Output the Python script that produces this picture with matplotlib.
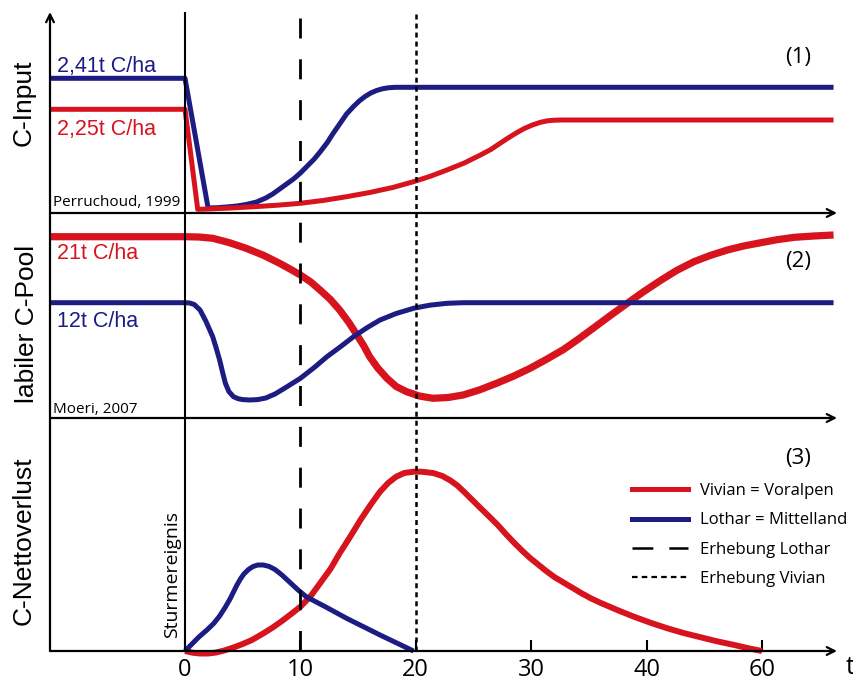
import matplotlib.pyplot as plt
from matplotlib.lines import Line2D

plt.rcParams['lines.scale_dashes'] = False
plt.rcParams['font.family'] = ['Open Sans', 'DejaVu Sans']

RED = '#d7141e'
BLUE = '#1c1c82'

# time axis (the last tick is labelled 60 but sits one step after 40)
tick_pos = [0, 10, 20, 30, 40, 50]
tick_labels = ['0', '10', '20', '30', '40', '60']

# (1) C-Input, arbitrary height units
input_blue_t = [-11.7, 0, 2.0, 2.8, 3.6, 4.5, 5.3, 6.2, 7.0, 7.6, 8.2, 8.8, 9.4, 10, 10.6, 11.2, 11.7, 12.3,
                12.8, 13.4, 14, 14.6, 15.1, 15.6, 16.1, 16.6, 17.1, 17.6, 18.2, 56.2]
input_blue_y = [134.7, 134.7, 5, 5.3, 6, 7, 8.5, 11, 15, 19, 24, 29, 34, 40, 47, 54, 61, 70,
                79, 89, 99, 106.5, 112, 116.5, 120, 122.5, 124.2, 125.2, 125.7, 125.7]
input_red_t = [-11.7, 0, 1.1, 2, 4, 6, 8, 10, 12, 14, 16, 18, 19.8, 21.2, 22.7, 24.2, 25.6, 26.5,
               27.3, 28, 28.7, 29.4, 30.1, 30.8, 31.4, 32, 32.6, 56.2]
input_red_y = [103.7, 103.7, 3.7, 4, 5, 6.3, 7.8, 9.7, 12.6, 16.3, 20.5, 25.5, 31.3, 36.5, 43, 50, 58, 63.5,
               69.7, 75, 80, 84.5, 88, 90.7, 92.2, 92.8, 93, 93]

# (2) labiler C-Pool
pool_red_t = [-11.7, 0, 1.2, 2.4, 3.8, 5.3, 6.8, 8.2, 9.1, 10, 10.9, 11.7, 12.6, 13.4, 14.2, 14.9, 15.5,
              16, 16.7, 17.5, 18.3, 19.2, 20.3, 21.5, 22.8, 24.1, 25.5, 27, 28.5, 29.9, 31.3, 32.8, 34.1,
              35.4, 36.8, 38.3, 39.7, 41.2, 42.6, 44.1, 45.5, 47, 48.4, 49.9, 51.3, 52.8, 54.5, 56.2]
pool_red_y = [181.3, 181.3, 181, 179.7, 175.5, 169.7, 162.7, 154.7, 149, 143, 136, 128, 118.5, 108, 95.5, 83, 72,
              61.3, 50, 39.7, 31.5, 26.3, 22, 19.7, 20.5, 23, 28, 34.7, 42, 49.7, 58.5, 68.5, 79,
              90, 102, 114.5, 126, 137.5, 147.5, 156.3, 162.5, 168, 172, 175.3, 178.3, 180.7, 182, 183]
pool_blue_t = [-11.7, 0, 0.4, 0.8, 1.3, 1.8, 2.4, 2.7, 3.0, 3.25, 3.5, 3.8, 4.2, 4.6, 5.0, 5.6, 6.3, 7.0,
               7.8, 8.8, 10, 11.2, 12.3, 13.5, 14.6, 15.8, 16.9, 18.3, 19.8, 21.2, 22.7, 24.1, 56.2]
pool_blue_y = [115.3, 115.3, 115, 113.5, 108, 97, 81.3, 70, 58, 46, 34.7, 26.5, 21.3, 19.3, 18.4, 18, 18.4, 20,
               24, 31, 39.7, 50.5, 61.3, 71.5, 81.3, 90.5, 98, 104.5, 109.7, 112.8, 114.7, 115.3, 115.3]

# (3) C-Nettoverlust
loss_blue_t = [0, 0.6, 1.2, 1.9, 2.5, 3.0, 3.5, 3.9, 4.2, 4.5, 4.8, 5.1, 5.5, 5.9, 6.3, 6.8, 7.3, 7.8,
               8.4, 9.1, 9.8, 10.5, 12.2, 14, 16.9, 19.8]
loss_blue_y = [0, 7, 14, 21, 27.7, 35, 44, 52, 59, 66, 72, 77, 81.5, 84.5, 86, 86, 84.5, 81.5,
               76, 68.5, 61, 54.3, 44, 32.7, 16, 0]
loss_red_t = [0, 0.7, 1.3, 2.0, 2.7, 3.4, 4.2, 5.0, 5.8, 6.8, 7.6, 8.4, 9.2, 10, 10.9, 11.7, 12.6, 13.4,
              14.3, 15.2, 16.1, 16.9, 17.6, 18.3, 19.0, 19.8, 20.5, 21.5, 22.3, 23, 23.6, 24.2, 24.9, 25.6,
              26.4, 27.1, 27.8, 28.5, 29.2, 29.9, 30.6, 31.3, 32, 32.8, 33.6, 34.4, 35.2, 36, 37.5, 38.9,
              40.4, 41.8, 43.2, 44.7, 46.1, 47.6, 48.8, 50]
loss_red_y = [0, -1.8, -2.5, -2.5, -1.5, 0.5, 3.5, 7, 11, 17.7, 23.5, 30, 37, 44.3, 55, 67.7, 82, 97.7,
              114, 131, 146.5, 159.3, 168, 174.3, 178, 179.3, 179.3, 178, 175, 170.5, 165.5, 159, 151, 143,
              134, 126, 117, 108.5, 100.5, 93, 86.5, 80, 74, 68.5, 63, 57.5, 52.5, 48.2, 40.8, 34.3,
              28, 22.7, 18, 13.7, 9.7, 6, 2.8, 0]

W, H = 854, 682
X0, X1 = 50, 837
T_MIN, T_MAX = -11.7, 56.5

fig = plt.figure(figsize=(W / 100, H / 100), dpi=100)


def panel(top, bottom):
    ax = fig.add_axes([X0 / W, 1 - bottom / H, (X1 - X0) / W, (bottom - top) / H])
    ax.set_xlim(T_MIN, T_MAX)
    ax.set_ylim(0, bottom - top)
    for s in ax.spines.values():
        s.set_visible(False)
    ax.set_yticks([])
    ax.set_xticks([])
    ax.patch.set_alpha(0)
    ax.annotate('', xy=(1, 0), xytext=(0, 0), xycoords='axes fraction',
                arrowprops=dict(arrowstyle='->', lw=1.6, color='black',
                                shrinkA=0, shrinkB=0, mutation_scale=14))
    return ax


line_kw = dict(clip_on=False, solid_joinstyle='round', solid_capstyle='butt')

ax1 = panel(12, 213)
ax1.plot(input_blue_t, input_blue_y, color=BLUE, lw=3.6, **line_kw)
ax1.plot(input_red_t, input_red_y, color=RED, lw=3.6, **line_kw)
ax1.text(-11.1, 141, '2,41t C/ha', color=BLUE, fontsize=15.5, family='Liberation Sans', va='baseline')
ax1.text(-11.1, 78, '2,25t C/ha', color=RED, fontsize=15.5, family='Liberation Sans', va='baseline')
ax1.text(-11.44, 7, 'Perruchoud, 1999', fontsize=11, va='baseline')
ax1.text(53.1, 156, '(1)', fontsize=16, ha='center', va='center')

ax2 = panel(213, 418)
ax2.plot(pool_red_t, pool_red_y, color=RED, lw=5.2, **line_kw)
ax2.plot(pool_blue_t, pool_blue_y, color=BLUE, lw=3.6, **line_kw)
ax2.text(-11.1, 158.7, '21t C/ha', color=RED, fontsize=15.5, family='Liberation Sans', va='baseline')
ax2.text(-11.1, 91.3, '12t C/ha', color=BLUE, fontsize=15.5, family='Liberation Sans', va='baseline')
ax2.text(-11.44, 4.7, 'Moeri, 2007', fontsize=11, va='baseline')
ax2.text(53.1, 156, '(2)', fontsize=16, ha='center', va='center')

ax3 = panel(418, 651)
ax3.plot(loss_red_t, loss_red_y, color=RED, lw=4.3, **line_kw)
ax3.plot(loss_blue_t, loss_blue_y, color=BLUE, lw=3.6, **line_kw)
ax3.set_xticks(tick_pos, tick_labels)
ax3.tick_params(axis='x', direction='in', length=8, width=1.5, pad=5, labelsize=17)
ax3.text(53.1, 193, '(3)', fontsize=16, ha='center', va='center')
ax3.text(-1.13, 13, 'Sturmereignis', fontsize=14, rotation=90, ha='center', va='bottom')

handles = [
    Line2D([], [], color=RED, lw=3.6),
    Line2D([], [], color=BLUE, lw=3.6),
    Line2D([], [], color='black', lw=1.8, linestyle=(0, (15, 11.5))),
    Line2D([], [], color='black', lw=1.6, linestyle=(0, (4, 3))),
]
labels = ['Vivian = Voralpen', 'Lothar = Mittelland', 'Erhebung Lothar', 'Erhebung Vivian']
ax3.legend(handles, labels, loc='upper left', bbox_to_anchor=(632 / W, 1 - 483 / H),
           bbox_transform=fig.transFigure, frameon=False, fontsize=12,
           handlelength=3.35, handletextpad=0.72, labelspacing=0.8, borderpad=0,
           borderaxespad=0)

# vertical markers spanning all three panels
ov = fig.add_axes([X0 / W, 1 - 651 / H, (X1 - X0) / W, 639 / H])
ov.set_xlim(T_MIN, T_MAX)
ov.set_ylim(651, 12)
ov.axis('off')
ov.plot([0, 0], [12, 651], color='black', lw=1.5)
ov.plot([10, 10], [18, 651], color='black', lw=2.0, linestyle=(0, (14.4, 15)))
ov.plot([20, 20], [14, 651], color='black', lw=1.8, linestyle=(0, (3.6, 2.9)))
ov.annotate('', xy=(0, 1), xytext=(0, 0), xycoords='axes fraction',
            arrowprops=dict(arrowstyle='->', lw=1.6, color='black',
                            shrinkA=0, shrinkB=0, mutation_scale=14))

fig.text(24 / W, 1 - 102.5 / H, 'C-Input', rotation=90, ha='center', va='center',
         fontsize=19, family='Liberation Sans')
fig.text(27 / W, 1 - 324 / H, 'labiler C-Pool', rotation=90, ha='center', va='center',
         fontsize=19, family='Liberation Sans')
fig.text(24 / W, 1 - 541 / H, 'C-Nettoverlust', rotation=90, ha='center', va='center',
         fontsize=19, family='Liberation Sans')
fig.text(846 / W, 1 - 668 / H, 't', fontsize=18, ha='left', va='center')

fig.savefig('out.png', dpi=100)
